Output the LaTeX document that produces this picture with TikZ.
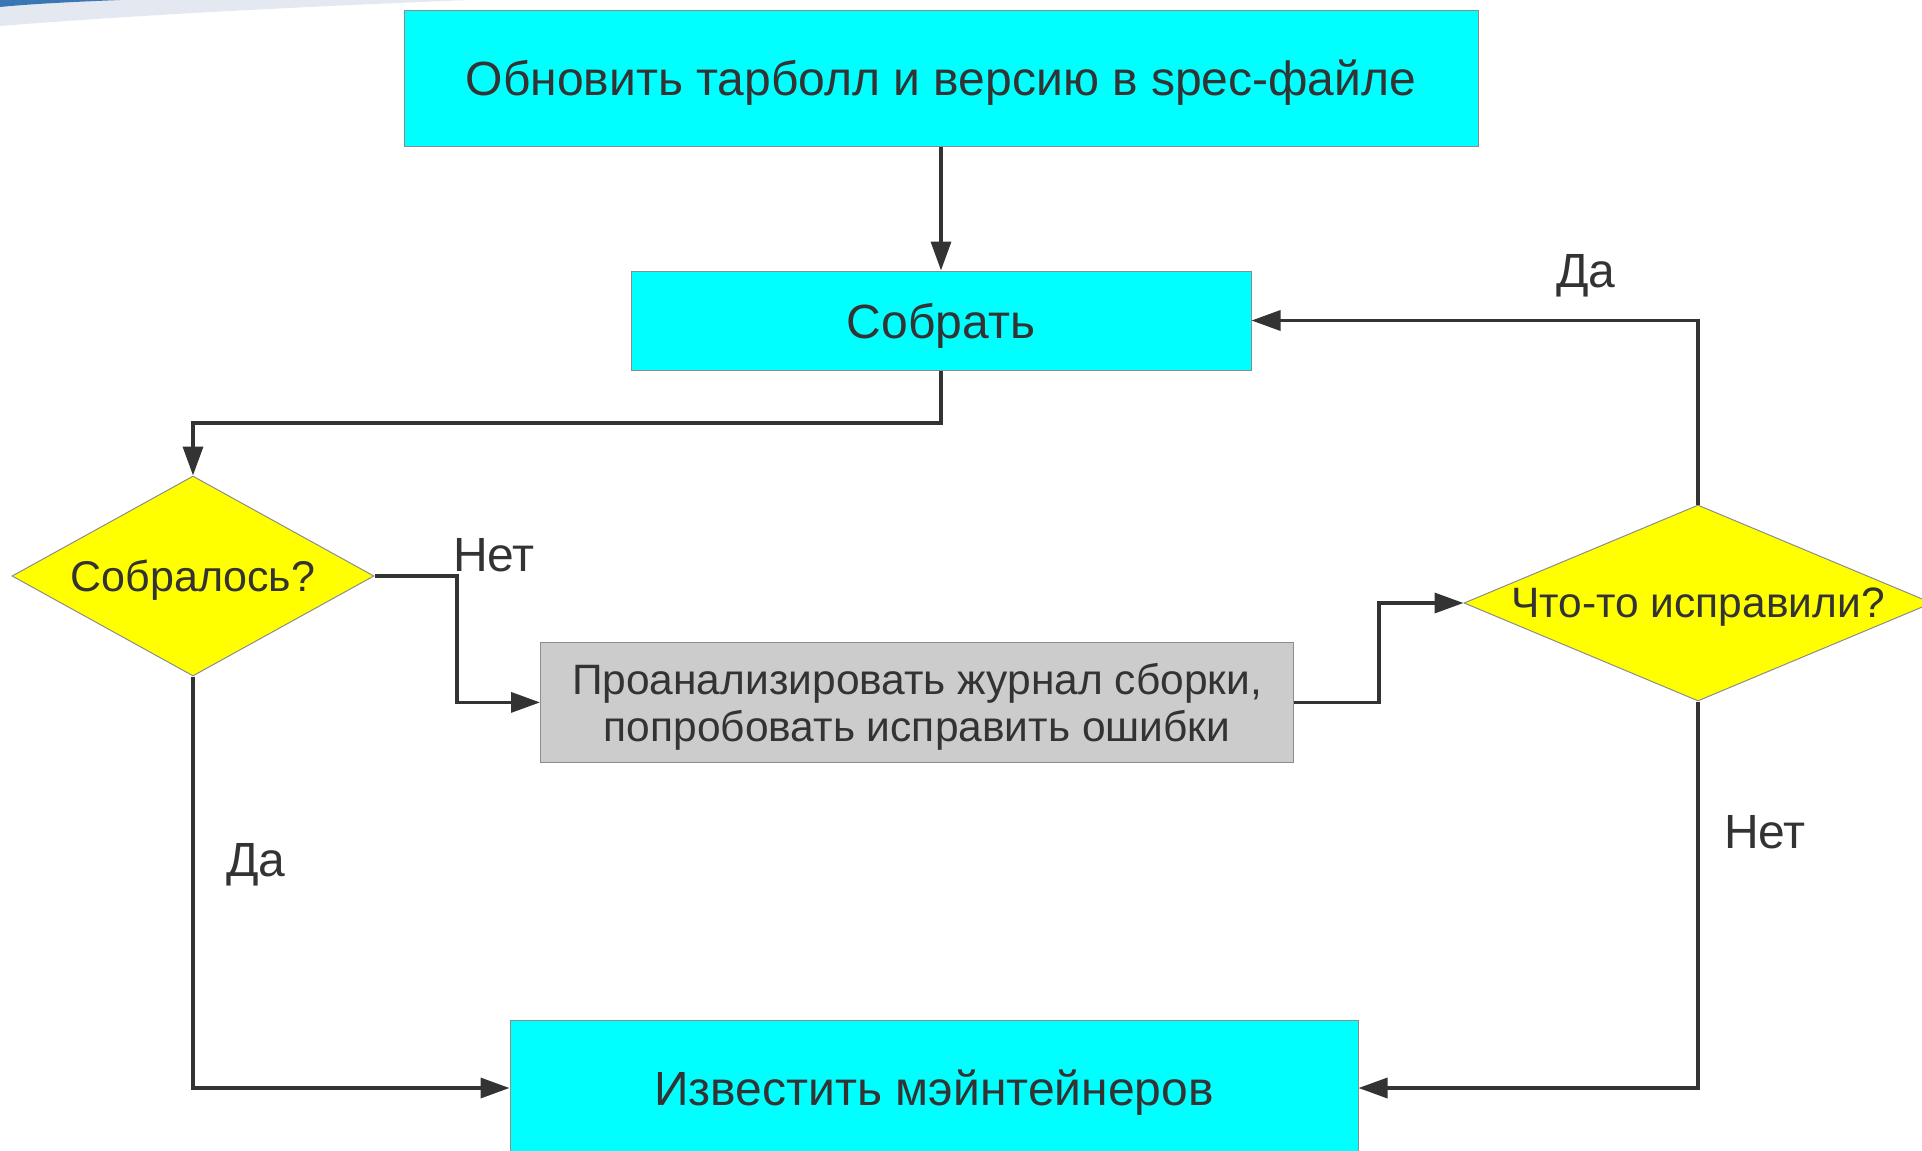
\documentclass[tikz,border=0pt]{standalone}
\usepackage{fontspec}
\setmainfont{Liberation Sans}
\usepackage{xcolor}
\usetikzlibrary{arrows.meta,calc,positioning,shapes.geometric}
\definecolor{ink}{HTML}{333333}
\definecolor{edge}{HTML}{8C8C8C}
\definecolor{stepcyan}{HTML}{00FFFF}
\definecolor{askyellow}{HTML}{FFFF00}
\definecolor{loggray}{HTML}{CCCCCC}
\definecolor{swooshlight}{HTML}{E4E9F1}
\definecolor{swooshdark}{HTML}{3A76B4}
\tikzset{%
	stepbox/.style  = {draw=edge, line width=1pt, fill=stepcyan, rectangle, inner sep=0pt, text=ink, text depth=0pt, text centered},
	logbox/.style   = {draw=edge, line width=1pt, fill=loggray, rectangle, inner sep=0pt, text=ink, text depth=0pt, align=center},
	decision/.style = {draw=edge, line width=1pt, fill=askyellow, diamond, inner sep=0pt, text=ink, text depth=0pt},
	answer/.style   = {text=ink, inner sep=0pt, font=\fontsize{48}{56}\selectfont},
	arrow/.style    = {draw=ink, line width=3.5pt, -{Triangle[length=29pt,width=20pt]}},
}
\begin{document}
\begin{tikzpicture}[x=1pt,y=-1pt]
	\useasboundingbox (0,0) rectangle (1922,1151);
	\clip (0,0) rectangle (1922,1151);
	\fill[swooshlight] (0,0) -- (470,0) .. controls (320,6) and (150,14) .. (0,26) -- cycle;  % slide corner
	\fill[swooshdark] (0,0) -- (120,0) .. controls (70,2) and (30,4) .. (0,7) -- cycle;
	\node[stepbox, minimum width=1074pt, minimum height=136pt, font=\fontsize{48}{56}\selectfont] (update) at (941,78) {Обновить тарболл и версию в spec-файле};
	\node[stepbox, minimum width=620pt, minimum height=99pt, font=\fontsize{48}{56}\selectfont] (build) at (941,320.5) {Собрать};
	\node[decision, minimum width=362pt, minimum height=200pt, font=\fontsize{43}{51}\selectfont] (built) at (193,576) {\makebox[0pt]{Собралось?}};
	\node[logbox, minimum width=753pt, minimum height=120pt, font=\fontsize{42.5}{47}\selectfont] (analyse) at (917,702.4) {Проанализировать журнал сборки,\\попробовать исправить ошибки};
	\node[decision, minimum width=468pt, minimum height=196pt, font=\fontsize{42.5}{50}\selectfont] (fixed) at (1698,603) {\makebox[0pt]{Что-то исправили?}};
	\node[stepbox, minimum width=848pt, minimum height=136pt, font=\fontsize{48}{56}\selectfont] (notify) at (934,1088) {Известить мэйнтейнеров};
	\coordinate (buildbend) at (193,423);
	\coordinate (nobend) at (457,576);
	\coordinate (fixbend) at (1379,702.4);
	\draw[arrow] (update) -- (build);
	\draw[arrow] (build.south) |- (buildbend) -- (built.north);
	\draw[arrow] (built.east) -- (nobend) |- (analyse.west);
	\draw[arrow] (analyse.east) -- (fixbend) |- (fixed.west);
	\draw[arrow] (fixed.north) |- (build.east);
	\draw[arrow] (fixed.south) |- (notify.east);
	\draw[arrow] (built.south) |- (notify.west);
	\node[answer] (builtno) at (494,555) {Нет};
	\node[answer] (builtyes) at (256,865) {Да};
	\node[answer] (fixedyes) at (1586,276) {Да};
	\node[answer] (fixedno) at (1765,832) {Нет};
\end{tikzpicture}
\end{document}
